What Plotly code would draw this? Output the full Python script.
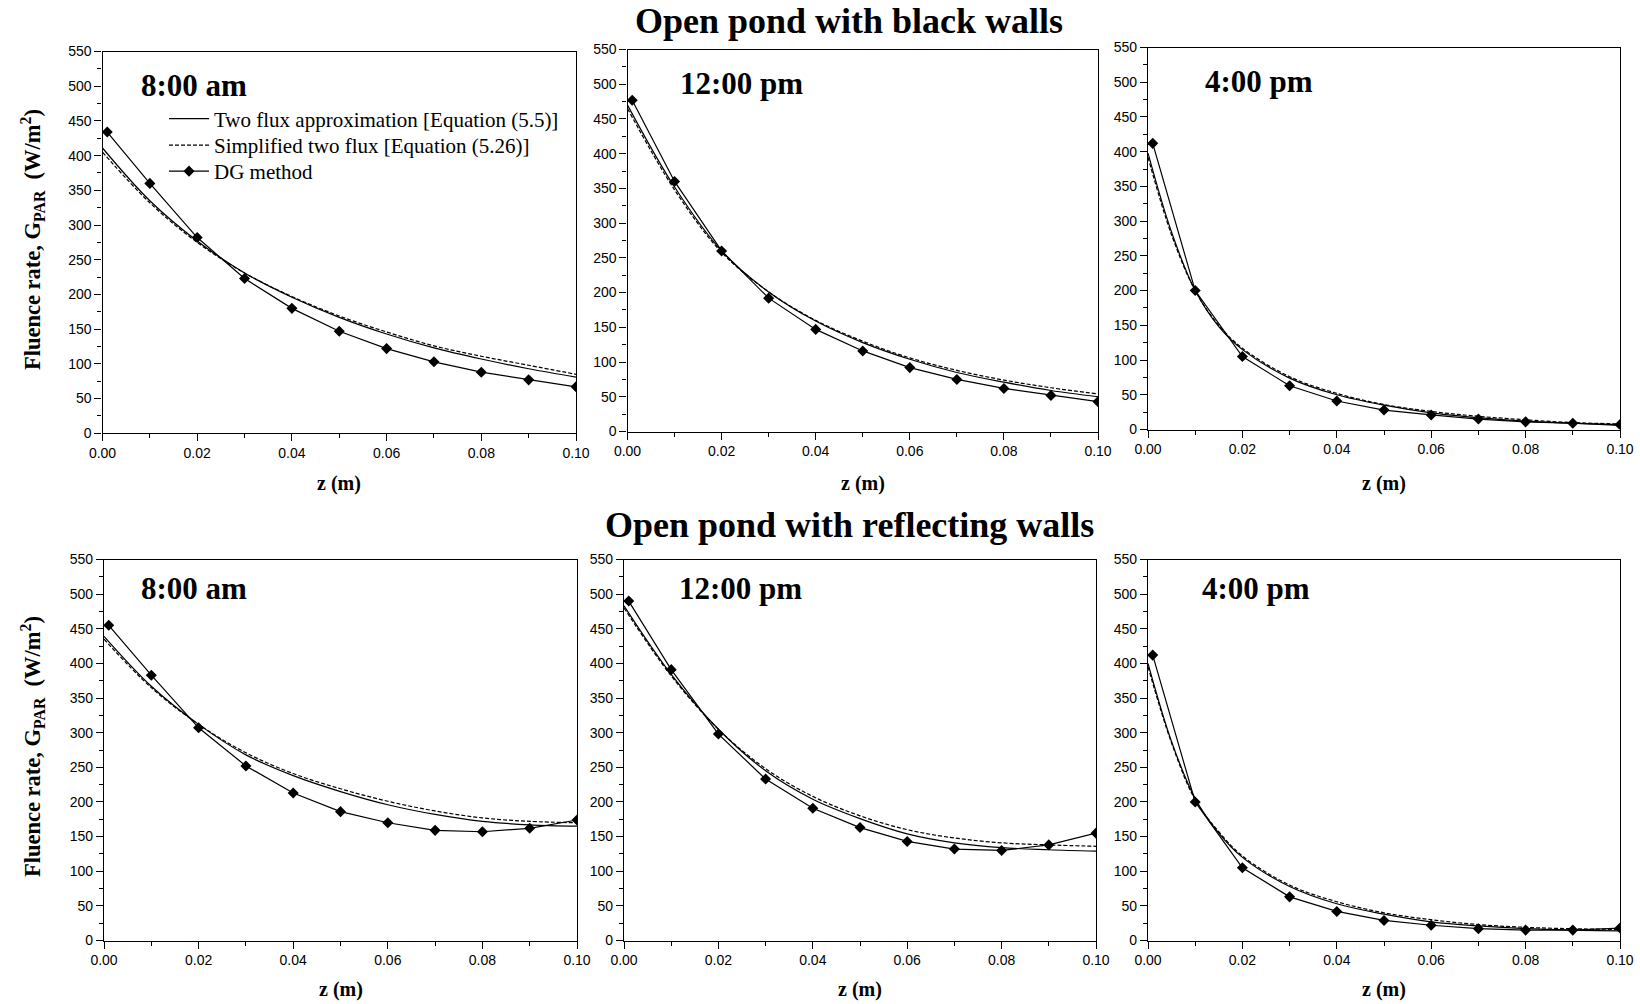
import plotly.graph_objects as go

# ---------------- data ----------------
z_grid = [0.0, 0.01, 0.02, 0.03, 0.04, 0.05, 0.06, 0.07, 0.08, 0.09, 0.10]
z_fine = [0.0, 0.005, 0.01, 0.015, 0.02, 0.03, 0.04, 0.05, 0.06, 0.07, 0.08, 0.09, 0.10]
z_dg = [0.001, 0.01, 0.02, 0.03, 0.04, 0.05, 0.06, 0.07, 0.08, 0.09, 0.10]

# Open pond with black walls
black_8am_two_flux = [411, 335, 277, 231, 196, 167, 143, 123, 107, 93, 81]
black_8am_simplified = [405, 332, 275, 231, 197, 169, 146, 126, 111, 98, 85]
black_8am_dg = [434, 360, 282, 223, 180, 147, 122, 103, 88, 77, 67]

black_12pm_two_flux = [470, 352, 260, 201, 159, 128, 104, 85, 71, 59, 50]
black_12pm_simplified = [465, 348, 258, 201, 160, 130, 106, 88, 74, 63, 54]
black_12pm_dg = [477, 360, 260, 192, 147, 116, 92, 75, 62, 52, 43]

black_4pm_two_flux = [398, 284, 200, 148, 115, 74, 50, 35, 24, 17, 12, 9, 6]
black_4pm_simplified = [392, 280, 200, 150, 117, 76, 52, 36, 26, 19, 14, 10, 8]
black_4pm_dg = [412, 200, 105, 63, 41, 28, 21, 15, 11, 9, 7]

# Open pond with reflecting walls
refl_8am_two_flux = [439, 367, 312, 268, 238, 215, 196, 182, 172, 167, 165]
refl_8am_simplified = [435, 365, 312, 271, 241, 219, 201, 187, 177, 172, 170]
refl_8am_dg = [455, 383, 307, 252, 213, 186, 170, 159, 157, 162, 174]

refl_12pm_two_flux = [483, 384, 305, 245, 204, 176, 154, 141, 134, 131, 129]
refl_12pm_simplified = [480, 382, 305, 248, 208, 180, 160, 148, 141, 138, 136]
refl_12pm_dg = [490, 391, 298, 233, 191, 163, 143, 132, 130, 138, 155]

refl_4pm_two_flux = [400, 287, 205, 155, 120, 78, 53, 38, 27, 21, 17, 15, 14]
refl_4pm_simplified = [395, 285, 203, 157, 122, 80, 56, 40, 30, 23, 19, 17, 16]
refl_4pm_dg = [412, 200, 105, 63, 42, 29, 22, 17, 15, 15, 18]

row_titles = ["Open pond with black walls", "Open pond with reflecting walls"]
time_labels = ["8:00 am", "12:00 pm", "4:00 pm"]
series_names = ["Two flux approximation [Equation (5.5)]",
                "Simplified two flux [Equation (5.26)]",
                "DG method"]
x_title = "z (m)"
y_title = "Fluence rate, G<sub>PAR</sub>&nbsp;&nbsp;(W/m<sup>2</sup>)"

panels = [
    (z_grid, black_8am_two_flux, black_8am_simplified, black_8am_dg),
    (z_grid, black_12pm_two_flux, black_12pm_simplified, black_12pm_dg),
    (z_fine, black_4pm_two_flux, black_4pm_simplified, black_4pm_dg),
    (z_grid, refl_8am_two_flux, refl_8am_simplified, refl_8am_dg),
    (z_grid, refl_12pm_two_flux, refl_12pm_simplified, refl_12pm_dg),
    (z_fine, refl_4pm_two_flux, refl_4pm_simplified, refl_4pm_dg),
]

# ---------------- layout geometry (pixels in 1640x1004) ----------------
W, H = 1640, 1004
x_px = [(102.5, 576), (627.5, 1098), (1148, 1620),
        (104, 577), (624, 1096), (1148, 1620)]
y_px = [(51.5, 433.3), (49.5, 431.5), (47.5, 429.5),
        (559.5, 940.5), (559.5, 940.5), (559.5, 940.5)]
label_pos = [(0.077, 0.912), (0.107, 0.912), (0.116, 0.912),
             (0.074, 0.923), (0.112, 0.923), (0.11, 0.923)]
legend_rows_px = [119, 145.5, 171.5]
legend_left_px = 164

SERIF = "Liberation Serif"
SANS = "Liberation Sans"

fig = go.Figure()
layout = dict(
    width=W, height=H,
    margin=dict(l=0, r=0, t=0, b=0, pad=0, autoexpand=False),
    paper_bgcolor="white", plot_bgcolor="white",
    showlegend=True,
)
legend_ids = ["legend", "legend2", "legend3"]
for k, lid in enumerate(legend_ids):
    layout[lid] = dict(x=legend_left_px / W, y=1 - legend_rows_px[k] / H,
                       xanchor="left", yanchor="middle",
                       bgcolor="rgba(0,0,0,0)", borderwidth=0,
                       font=dict(family=SERIF, size=21, color="black"),
                       tracegroupgap=0, itemwidth=40)
annotations = []

for i, (zx, tf, sf, dg) in enumerate(panels):
    n = i + 1
    xs = "" if n == 1 else str(n)
    xd = [x_px[i][0] / W, x_px[i][1] / W]
    yd = [1 - y_px[i][1] / H, 1 - y_px[i][0] / H]
    common_axis = dict(showgrid=False, zeroline=False, linecolor="black", linewidth=1.2,
                       ticks="outside", ticklen=7, tickwidth=1, tickcolor="black",
                       tickfont=dict(family=SANS, size=14, color="black"),
                       mirror=True, automargin=False)
    layout["xaxis" + xs] = dict(domain=xd, anchor="y" + xs, range=[0, 0.1], dtick=0.02,
                                tickformat=".2f",
                                minor=dict(dtick=0.01, ticks="outside", ticklen=4,
                                           tickcolor="black"),
                                **common_axis)
    layout["yaxis" + xs] = dict(domain=yd, anchor="x" + xs, range=[0, 550], dtick=50,
                                minor=dict(dtick=25, ticks="outside", ticklen=4,
                                           tickcolor="black"),
                                **common_axis)
    # mirrored axes with inward ticks (top and right)
    m = n + 6
    layout["xaxis" + str(m)] = dict(overlaying="x" + xs, anchor="y" + xs, side="top",
                                    range=[0, 0.1], dtick=0.02, showticklabels=False,
                                    showgrid=False, zeroline=False, showline=False,
                                    ticks="inside", ticklen=4, tickcolor="black",
                                    automargin=False,
                                    minor=dict(dtick=0.01, ticks="inside", ticklen=3,
                                               tickcolor="black"))
    layout["yaxis" + str(m)] = dict(overlaying="y" + xs, anchor="x" + xs, side="right",
                                    range=[0, 550], dtick=50, showticklabels=False,
                                    showgrid=False, zeroline=False, showline=False,
                                    ticks="inside", ticklen=4, tickcolor="black",
                                    automargin=False,
                                    minor=dict(dtick=25, ticks="inside", ticklen=3,
                                               tickcolor="black"))

    show = (i == 0)
    fig.add_trace(go.Scatter(x=zx, y=tf, mode="lines", name=series_names[0],
                             line=dict(color="black", width=1.2, shape="spline"),
                             xaxis="x" + xs, yaxis="y" + xs, showlegend=show,
                             legend="legend"))
    fig.add_trace(go.Scatter(x=zx, y=sf, mode="lines", name=series_names[1],
                             line=dict(color="black", width=1.2, dash="4px,2px",
                                       shape="spline"),
                             xaxis="x" + xs, yaxis="y" + xs, showlegend=show,
                             legend="legend2"))
    fig.add_trace(go.Scatter(x=z_dg, y=dg, mode="lines+markers", name=series_names[2],
                             line=dict(color="black", width=1.2),
                             marker=dict(symbol="diamond", size=8.5, color="black"),
                             xaxis="x" + xs, yaxis="y" + xs, showlegend=show,
                             legend="legend3"))

    lx, ly = label_pos[i]
    annotations.append(dict(text="<b>" + time_labels[i % 3] + "</b>",
                            xref="x" + xs + " domain", yref="y" + xs + " domain",
                            x=lx, y=ly, xanchor="left", yanchor="middle", showarrow=False,
                            font=dict(family=SERIF, size=31, color="black")))
    annotations.append(dict(text="<b>" + x_title + "</b>",
                            xref="x" + xs + " domain", yref="paper",
                            x=0.5, y=1 - (483 if i < 3 else 989) / H,
                            xanchor="center", yanchor="middle", showarrow=False,
                            font=dict(family=SERIF, size=20, color="black")))

for r, title in enumerate(row_titles):
    annotations.append(dict(text="<b>" + title + "</b>", xref="paper", yref="paper",
                            x=849.5 / W, y=1 - (21 if r == 0 else 525) / H,
                            xanchor="center", yanchor="middle", showarrow=False,
                            font=dict(family=SERIF, size=36, color="black")))
    annotations.append(dict(text="<b>" + y_title + "</b>", xref="paper", yref="paper",
                            x=32 / W, y=1 - (240 if r == 0 else 747) / H,
                            xanchor="center", yanchor="middle", textangle=-90,
                            showarrow=False,
                            font=dict(family=SERIF, size=22.5, color="black")))

layout["annotations"] = annotations
fig.update_layout(**layout)
fig.write_html("out.html", config={"displayModeBar": False},
               post_script="document.body.style.margin='0';")
